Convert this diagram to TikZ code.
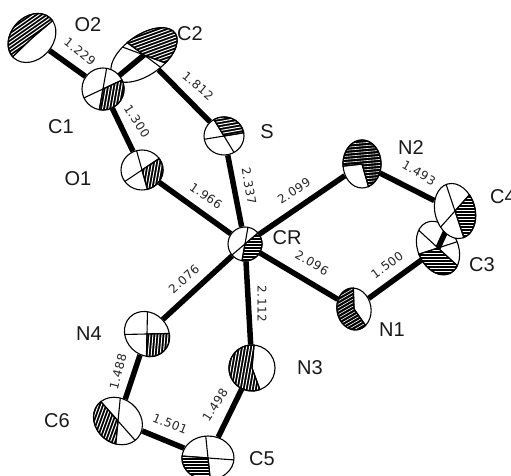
\documentclass[tikz,border=0pt]{standalone}
\usepackage{fontspec}
\setmainfont{Liberation Sans}
\newfontfamily\bondfont[LetterSpace=4]{DejaVu Sans}
\usetikzlibrary{shapes.geometric,backgrounds}
\tikzset{
  atomshape/.style={ellipse,draw=black,line width=1.1pt,fill=white,inner sep=0pt},
  bond/.style={line width=5.5pt,black},
  bondlabel/.style={font=\bondfont\fontsize{12}{13}\selectfont,inner sep=0pt,text=black!85},
  atomlabel/.style={font=\fontsize{20}{20}\selectfont,inner sep=0pt,text=black!90}
}
% name, x, y(px), rx, ry, rot, t1, t2, hatch angle
\newcommand\atom[9]{%
  \node[atomshape,minimum width=#4*2pt,minimum height=#5*2pt,rotate=#6] (#1) at (#2,{476-#3}) {};
  \begin{scope}[shift={(#2,{476-#3})},rotate=#6]
    \draw[line width=1.1pt] (#7:#4 and #5) -- ({#7+180}:#4 and #5);
    \draw[line width=1.1pt] (#8:#4 and #5) -- ({#8+180}:#4 and #5);
    \begin{scope}
      \clip (0,0) -- (#7:#4 and #5) arc[start angle=#7,end angle=#8,x radius=#4,y radius=#5] -- cycle;
      \fill[black] (-40,-40) rectangle (40,40);
      \begin{scope}[rotate={#9-#6}]
        \foreach \h in {-36,-33,...,36}
          \draw[white,line width=\hw pt] (-40,\h) -- (40,\h);
      \end{scope}
    \end{scope}
    \draw[line width=1.3pt] (0,0) -- (#7:#4 and #5) arc[start angle=#7,end angle=#8,x radius=#4,y radius=#5] -- cycle;
  \end{scope}}
\newcommand\bondtext[4]{\node[bondlabel,rotate=#4] (#1) at (#2,{476-#3}) {#1};}
\newcommand\atomtext[4]{\node[atomlabel] (#1) at (#2,{476-#3}) {#4};}
\begin{document}
\begin{tikzpicture}[x=1pt,y=1pt]
\useasboundingbox (0,0) rectangle (511,476);
\coordinate (C1c) at (103,387);
\coordinate (C4c) at (455,265);
\def\hw{1.0}
\atom{C2a}{144}{55}{38}{20}{35}{-70}{100}{20}
\draw[bond] (C1c) -- (C2a.center);
\atom{O2a}{32}{38}{27}{21}{48}{-10}{175}{35}
\atom{C1a}{103}{89}{21}{21}{0}{-100}{25}{80}
\atom{Sa}{224}{136}{20}{19}{0}{10}{120}{10}
\atom{O1a}{142}{170}{21}{20}{0}{-75}{35}{80}
\atom{CRa}{245}{244}{17}{17}{0}{-100}{40}{0}
\atom{C3a}{438}{248}{20}{28}{25}{175}{300}{0}
\draw[bond] (C3a.center) -- (C4c);
\atom{C4a}{455}{211}{20}{28}{15}{-85}{25}{0}
\atom{N3a}{252}{368}{23}{23}{0}{85}{290}{80}
\atom{N4a}{147}{334}{24}{21}{-45}{-50}{50}{85}
\atom{C6a}{118}{421}{26}{22}{-40}{170}{300}{70}
\atom{C5a}{208}{458}{26}{22}{0}{175}{275}{0}
\def\hw{0.6}
\atom{N2a}{362}{164}{19}{24}{0}{-70}{185}{5}
\atom{N1a}{354}{309}{17}{21}{10}{80}{300}{30}
\begin{pgfonlayer}{background}
  \fill[white] (0,0) rectangle (511,476);
  \draw[bond] (O2a) -- (C1a);
  \draw[bond] (C1a) -- (O1a);
  \draw[bond] (C2a) -- (Sa);
  \draw[bond] (O1a) -- (CRa);
  \draw[bond] (Sa) -- (CRa);
  \draw[bond] (N2a) -- (CRa);
  \draw[bond] (N1a) -- (CRa);
  \draw[bond] (N4a) -- (CRa);
  \draw[bond] (N3a) -- (CRa);
  \draw[bond] (N2a) -- (C4a);
  \draw[bond] (N1a) -- (C3a);
  \draw[bond] (N4a) -- (C6a);
  \draw[bond] (C6a) -- (C5a);
  \draw[bond] (C5a) -- (N3a);
\end{pgfonlayer}
\bondtext{1.229}{80}{52}{-39}
\bondtext{1.812}{198}{86}{-40}
\bondtext{1.300}{137}{121}{-57}
\bondtext{1.966}{206}{196}{-35}
\bondtext{2.337}{249}{186}{-80}
\bondtext{2.099}{294}{191}{33}
\bondtext{1.493}{419}{173}{-30}
\bondtext{2.096}{312}{263}{-30}
\bondtext{1.500}{387}{265}{37}
\bondtext{2.076}{184}{279}{42}
\bondtext{2.112}{262}{304}{-90}
\bondtext{1.488}{118}{372}{75}
\bondtext{1.498}{215}{405}{57}
\bondtext{1.501}{170}{424}{-22}
\atomtext{tO2}{88}{25}{O2}
\atomtext{tC2}{190}{34}{C2}
\atomtext{tC1}{61}{127}{C1}
\atomtext{tO1}{78}{179}{O1}
\atomtext{tS}{267}{132}{S}
\atomtext{tN2}{411}{148}{N2}
\atomtext{tC4}{503}{197}{C4}
\atomtext{tCR}{287}{238}{CR}
\atomtext{tC3}{482}{265}{C3}
\atomtext{tN1}{392}{330}{N1}
\atomtext{tN3}{310}{368}{N3}
\atomtext{tN4}{89}{334}{N4}
\atomtext{tC6}{57}{421}{C6}
\atomtext{tC5}{262}{459}{C5}
\end{tikzpicture}
\end{document}
